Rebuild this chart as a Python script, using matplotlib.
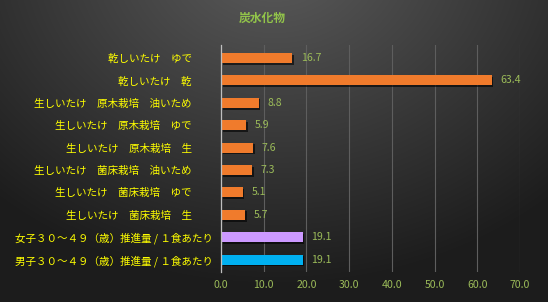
import numpy as np
import matplotlib
matplotlib.use("Agg")
import matplotlib.pyplot as plt
import matplotlib.patheffects as pe

plt.rcParams['font.family'] = ['Noto Sans CJK JP', 'DejaVu Sans']

title = "炭水化物"
categories = [
    "乾しいたけ　ゆで　　",
    "乾しいたけ　乾　　",
    "生しいたけ　原木栽培　油いため　　",
    "生しいたけ　原木栽培　ゆで　　",
    "生しいたけ　原木栽培　生　　",
    "生しいたけ　菌床栽培　油いため　　",
    "生しいたけ　菌床栽培　ゆで　　",
    "生しいたけ　菌床栽培　生　　",
    "女子３０～４９（歳）推進量 / １食あたり",
    "男子３０～４９（歳）推進量 / １食あたり",
]
values = [16.7, 63.4, 8.8, 5.9, 7.6, 7.3, 5.1, 5.7, 19.1, 19.1]
bar_colors = ["#F07B2C"] * 8 + ["#CC99FF", "#00B0F0"]
xticks = [0, 10, 20, 30, 40, 50, 60, 70]

W, H = 548, 302
fig = plt.figure(figsize=(W / 100, H / 100), dpi=100)

# background radial gradient
bg = fig.add_axes([0, 0, 1, 1])
yy, xx = np.mgrid[0:H, 0:W]
cx, cy = W * 0.5, -H * 0.15
d = np.sqrt(((xx - cx) / (W * 0.75)) ** 2 + ((yy - cy) / (H * 1.1)) ** 2)
d = np.clip(d, 0, 1)
top = np.array([0x5c, 0x5c, 0x5c]) / 255
edge = np.array([0x1c, 0x1c, 0x1c]) / 255
img = top[None, None, :] * (1 - d[..., None]) + edge[None, None, :] * d[..., None]
bg.imshow(img, aspect='auto', extent=[0, 1, 0, 1])
bg.axis('off')

ax = fig.add_axes([221 / W, 1 - 272 / H, (520 - 221) / W, (272 - 45) / H])
ax.patch.set_alpha(0)
n = len(categories)
ypos = np.arange(n)
bars = ax.barh(ypos, values, height=0.45, color=bar_colors, zorder=3)
for b in bars:
    b.set_path_effects([pe.SimplePatchShadow(offset=(1.2, -1.2), shadow_rgbFace='black', alpha=0.6), pe.Normal()])

ax.set_xlim(0, 70)
ax.set_ylim(n - 0.45, -0.58)
ax.set_yticks(ypos)
ax.set_yticklabels(categories, color="#FFFF00", fontsize=7.6)
ax.set_xticks(xticks)
ax.set_xticklabels([f"{t:.1f}" for t in xticks], color="#9BBB59", fontsize=7.6)
ax.tick_params(axis='both', length=0)
ax.tick_params(axis='y', pad=6)
ax.tick_params(axis='x', pad=6)
ax.grid(axis='x', color="#5E5E5E", linewidth=0.8, zorder=0)
for s in ['top', 'right', 'bottom']:
    ax.spines[s].set_visible(False)
ax.spines['left'].set_color("#BFBFBF")
ax.spines['left'].set_linewidth(0.9)
ax.spines['left'].set_zorder(4)

for y, v in zip(ypos, values):
    ax.text(v + 2.0, y, f"{v:.1f}", va='center', ha='left', color="#9BBB59", fontsize=7.6)

fig.text(262 / W, 1 - 18 / H, title, ha='center', va='center', color="#92C44A",
         fontsize=8.5, fontweight='bold')

fig.savefig("out.png", dpi=100)
